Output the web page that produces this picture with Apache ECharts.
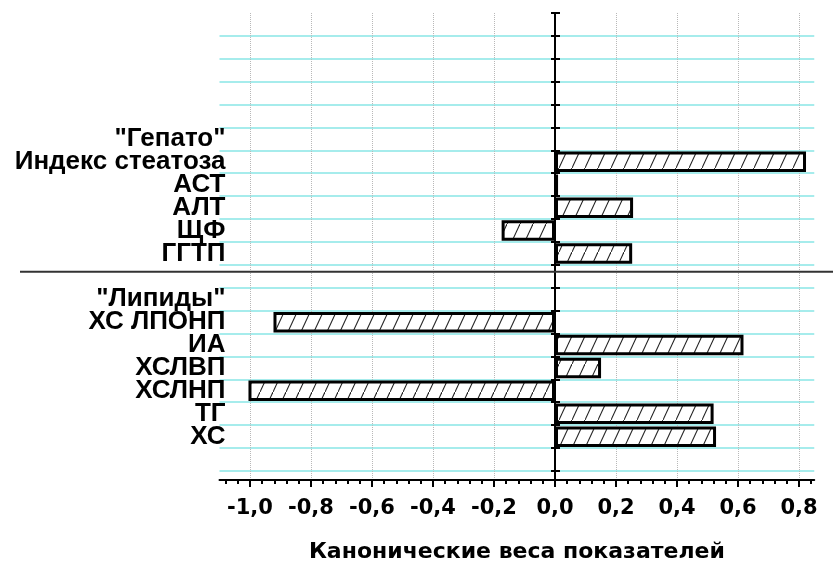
<!DOCTYPE html>
<html>
<head>
<meta charset="utf-8">
<script src="https://cdn.jsdelivr.net/npm/echarts@6/dist/echarts.min.js"></script>
<style>
html,body{margin:0;padding:0;background:#fff;}
#c{width:833px;height:568px;}
</style>
</head>
<body>
<div id="c"></div>
<script>
// ---- data ----
const categories = ['', '', '', '', '', '"Гепато"', 'Индекс стеатоза', 'АСТ', 'АЛТ', 'ЩФ', 'ГГТП', '',
  '"Липиды"', 'ХС ЛПОНП', 'ИА', 'ХСЛВП', 'ХСЛНП', 'ТГ', 'ХС', ''];
const weights = [null, null, null, null, null, null, 0.823, 0.01, 0.256, -0.175, 0.253, null,
  null, -0.923, 0.618, 0.151, -1.005, 0.52, 0.528, null];
const xMajorTicks = [-1.0, -0.8, -0.6, -0.4, -0.2, 0.0, 0.2, 0.4, 0.6, 0.8];
const xMinorStep = 0.04;
const xMin = -1.1, xMax = 0.85;
const rowsExtent = 20.4;      // row units from top of plot to x axis
const separatorRow = 11.3;    // group separator position in row units
const xTitle = 'Канонические веса показателей';

// minor tick positions between the majors
const xMinorTicks = [];
for (let i = -27; i <= 21; i++) {
  const v = Math.round(i * xMinorStep * 100) / 100;
  if (Math.abs(Math.round(v * 5) - v * 5) > 1e-6) xMinorTicks.push(v);
}

function hatchPattern() {
  const w = 13, h = 28;
  const c = document.createElement('canvas');
  c.width = w; c.height = h;
  const g = c.getContext('2d');
  g.fillStyle = '#ffffff';
  g.fillRect(0, 0, w, h);
  g.strokeStyle = '#222222';
  g.lineWidth = 1.1;
  g.beginPath();
  g.moveTo(-w, 2 * h);
  g.lineTo(2 * w, -h);
  g.stroke();
  return c;
}

const chart = echarts.init(document.getElementById('c'), null, {renderer: 'canvas'});
const gridLeft = 219.5, gridRight = 18.75;

const option = {
  animation: false,
  backgroundColor: '#ffffff',
  grid: [
    {left: gridLeft, right: gridRight, top: 13, bottom: 97, containLabel: false},
    {left: gridLeft, right: gridRight, top: 13, bottom: 88, containLabel: false}
  ],
  xAxis: [
    {type: 'value', gridIndex: 0, min: xMin, max: xMax, show: false},
    {
      type: 'value', gridIndex: 1, min: xMin, max: xMax, position: 'bottom',
      axisLine: {show: true, onZero: false, lineStyle: {color: '#000', width: 2}},
      axisTick: {show: true, customValues: xMajorTicks, length: 7, lineStyle: {color: '#000', width: 2}},
      axisLabel: {
        show: true, customValues: xMajorTicks, margin: 18,
        fontFamily: 'DejaVu Sans', fontWeight: 'bold', fontSize: 21, color: '#000',
        formatter: v => v.toFixed(1).replace('.', ',')
      },
      splitLine: {show: true, lineStyle: {color: '#b8b8b8', type: 'dotted', width: 1}},
      name: xTitle, nameLocation: 'middle', nameGap: 61,
      nameTextStyle: {fontFamily: 'DejaVu Sans', fontWeight: 'bold', fontSize: 22, color: '#000'}
    },
    {
      type: 'value', gridIndex: 1, min: xMin, max: xMax, position: 'bottom',
      axisLine: {show: false, onZero: false},
      axisTick: {show: true, customValues: xMinorTicks, length: 4, lineStyle: {color: '#000', width: 2}},
      axisLabel: {show: false},
      splitLine: {show: false}
    }
  ],
  yAxis: [
    {
      type: 'category', gridIndex: 0, data: categories, inverse: true, position: 'left',
      axisLine: {show: false, onZero: false},
      axisTick: {show: false},
      axisLabel: {
        show: true, interval: 0, margin: -6, align: 'right',
        fontFamily: 'Liberation Sans', fontWeight: 'bold', fontSize: 26, color: '#000'
      },
      splitLine: {show: false}
    },
    {
      type: 'value', gridIndex: 1, min: 0, max: rowsExtent, interval: 1, inverse: true, position: 'left',
      axisLine: {show: true, onZero: true, lineStyle: {color: '#000', width: 2}},
      axisTick: {show: true, inside: true, length: 5, lineStyle: {color: '#000', width: 2}},
      axisLabel: {show: false},
      splitLine: {show: true, showMinLine: false, showMaxLine: false, lineStyle: {color: '#a6ecec', width: 2}}
    },
    {
      type: 'value', gridIndex: 1, min: 0, max: rowsExtent, interval: 1, inverse: true, position: 'left',
      axisLine: {show: false, onZero: true},
      axisTick: {show: true, inside: false, length: 4, lineStyle: {color: '#000', width: 2}},
      axisLabel: {show: false},
      splitLine: {show: false}
    }
  ],
  series: [{
    type: 'bar',
    xAxisIndex: 0, yAxisIndex: 0,
    data: weights,
    barWidth: 20.5,
    itemStyle: {
      color: {image: hatchPattern(), repeat: 'repeat'},
      borderColor: '#000', borderWidth: 3
    },
    z: 5
  }]
};
chart.setOption(option);

// group separator line, placed through the row scale
const ySep = chart.convertToPixel({yAxisIndex: 1}, separatorRow);
chart.setOption({
  graphic: [{
    type: 'line', z: 10,
    shape: {x1: 20, y1: ySep, x2: 833, y2: ySep},
    style: {stroke: '#333', lineWidth: 2}
  }]
});
</script>
</body>
</html>
